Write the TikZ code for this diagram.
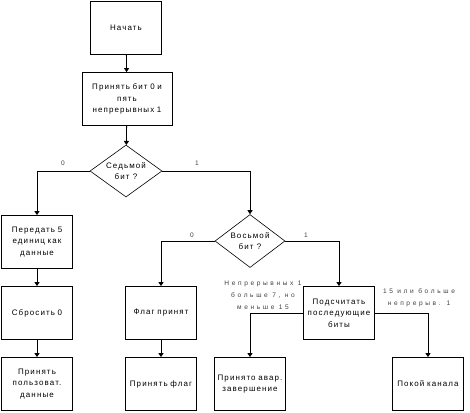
\documentclass[tikz,border=0pt]{standalone}
\usepackage{fontspec}
\setmainfont{Liberation Sans}[LetterSpace=14]
\newfontfamily\lblfont{Liberation Sans}[LetterSpace=40]
\usetikzlibrary{shapes.geometric,arrows.meta}
\begin{document}
\begin{tikzpicture}[x=1bp,y=-1bp,
  box/.style={draw,line width=0.8bp,minimum width=71bp,minimum height=53bp,align=center,inner sep=1bp,text width=68bp,font=\fontsize{8}{11.5}\selectfont},
  dec/.style={draw,line width=0.6bp,diamond,aspect=1.38,minimum width=72bp,minimum height=52bp,inner sep=0pt,align=center,font=\fontsize{8}{11.5}\selectfont},
  conn/.style={line width=0.8bp,-{Triangle[length=4bp,width=5bp]}},
  lbl/.style={font=\lblfont\fontsize{6.6}{12}\selectfont,text=black!75,align=center}]
\useasboundingbox (0,0) rectangle (470,412);
\node[box] (start) at (126,28) {Начать};
\node[box,minimum width=90bp,text width=86bp] (recv) at (127,99) {Принять бит 0 и\\пять\\непрерывных 1};
\node[dec] (d7) at (126,171) {Седьмой\\бит ?};
\node[box] (send5) at (37,242) {Передать 5\\единиц как\\данные};
\node[box] (reset) at (37,313) {Сбросить 0};
\node[box] (user) at (37,384) {Принять\\пользоват.\\данные};
\node[dec,minimum width=70bp,minimum height=53bp] (d8) at (250,241) {Восьмой\\бит ?};
\node[box] (flag) at (161,313) {Флаг принят};
\node[box] (rflag) at (161,384) {Принять флаг};
\node[box] (count) at (339,313) {Подсчитать\\последующие\\биты};
\node[box] (abort) at (250,384) {Принято авар.\\завершение};
\node[box] (idle) at (428,384) {Покой канала};
\coordinate (c7l) at (37,171);
\coordinate (c7r) at (250,171);
\coordinate (c8l) at (161,241);
\coordinate (c8r) at (339,241);
\coordinate (ccl) at (250,313);
\coordinate (ccr) at (428,313);
\draw[conn] (start) -- (recv);
\draw[conn] (recv) -- (d7);
\draw[conn] (d7.west) -- (c7l) -- (send5.north);
\draw[conn] (d7.east) -- (c7r) -- (d8.north);
\draw[conn] (send5) -- (reset);
\draw[conn] (reset) -- (user);
\draw[conn] (d8.west) -- (c8l) -- (flag.north);
\draw[conn] (d8.east) -- (c8r) -- (count.north);
\draw[conn] (flag) -- (rflag);
\draw[conn] (count.west) -- (ccl) -- (abort.north);
\draw[conn] (count.east) -- (ccr) -- (idle.north);
\node[lbl] (l0a) at (63,163) {0};
\node[lbl] (l1a) at (197,163) {1};
\node[lbl] (l0b) at (192,235) {0};
\node[lbl] (l1b) at (306,235) {1};
\node[lbl] (lmid) at (263,295) {Непрерывных 1\\больше 7, но\\меньше 15};
\node[lbl] (lright) at (419,298) {15 или больше\\непрерыв. 1};
\end{tikzpicture}
\end{document}
